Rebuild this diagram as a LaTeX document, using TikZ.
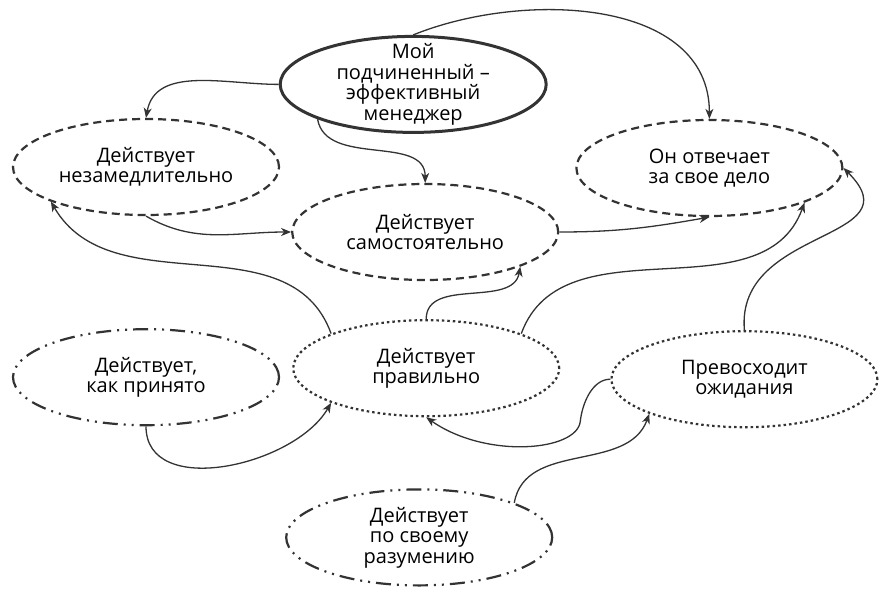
\documentclass[tikz,border=0pt]{standalone}
\usepackage{fontspec}
\setmainfont{Open Sans}
\usetikzlibrary{arrows.meta,shapes,positioning}
\definecolor{ink}{HTML}{333333}
\tikzset{
  goal/.style={ellipse, draw=ink, line width=2.2pt, minimum width=266pt, minimum height=96pt,
    inner sep=0pt, align=center, font=\fontsize{20}{20.5}\selectfont},
  main/.style={goal, line width=3pt},
  fixed/.style={goal, dash pattern=on 8pt off 5pt},
  loose/.style={goal, dash pattern=on 15pt off 6pt on 2pt off 6pt on 2pt off 6pt},
  dots/.style={goal, dash pattern=on 2.5pt off 3pt},
  link/.style={-{Stealth[length=10pt,width=8pt,inset=3pt]}, line width=1.3pt, draw=ink},
}
\begin{document}
\begin{tikzpicture}[x=1pt,y=1pt]
\useasboundingbox (0,0) rectangle (886,-597);
\node[fixed] (fast) at (146,-167) {Действует\\незамедлительно};
\node[loose, below=112pt of fast] (usual) {Действует,\\как принято};
\node[fixed, right=11pt of fast, yshift=-65pt] (indep) {Действует\\самостоятельно};
\node[fixed, right=16pt of indep, yshift=64pt] (resp) {Он отвечает\\за свое дело};
\node[main, inner ysep=-10pt, above=49pt of indep, xshift=-12pt] (mgr) {Мой\\подчиненный~--\\эффективный\\менеджер};
\node[dots, below=38pt of indep, xshift=1pt] (correct) {Действует\\правильно};
\node[dots, right=50pt of correct, yshift=-11pt] (exceed) {Превосходит\\ожидания};
\node[loose, below=71pt of correct, xshift=-7pt] (own) {Действует\\по своему\\разумению};

\draw[link] (mgr.west) to[out=180,in=80] (fast.north);
\draw[link] (mgr.200) to[out=-80,in=90] (indep.north);
\draw[link] (mgr.north) to[out=22,in=90] (resp.north);
\draw[link] (fast.south) to[out=-30,in=180] (indep.west);
\draw[link] (indep.east) to[out=0,in=190] (resp.south);
\draw[link] (correct.160) to[out=110,in=-60] (fast.200);
\draw[link] (correct.north) to[out=90,in=-100] (indep.-20);
\draw[link] (correct.20) to[out=70,in=-110] (resp.-20);
\draw[link] (exceed.north) to[out=95,in=-45,looseness=1.4] (resp.east);
\draw[link] (usual.south) to[out=-90,in=-120] (correct.200);
\draw[link] (exceed.west) .. controls +(-18,0) and +(2,18) .. ++(-30,-42)
  .. controls +(-3,-30) and +(60,-42) .. (correct.south);
\draw[link] (own.20) to[out=80,in=-110] (exceed.200);
\end{tikzpicture}
\end{document}
